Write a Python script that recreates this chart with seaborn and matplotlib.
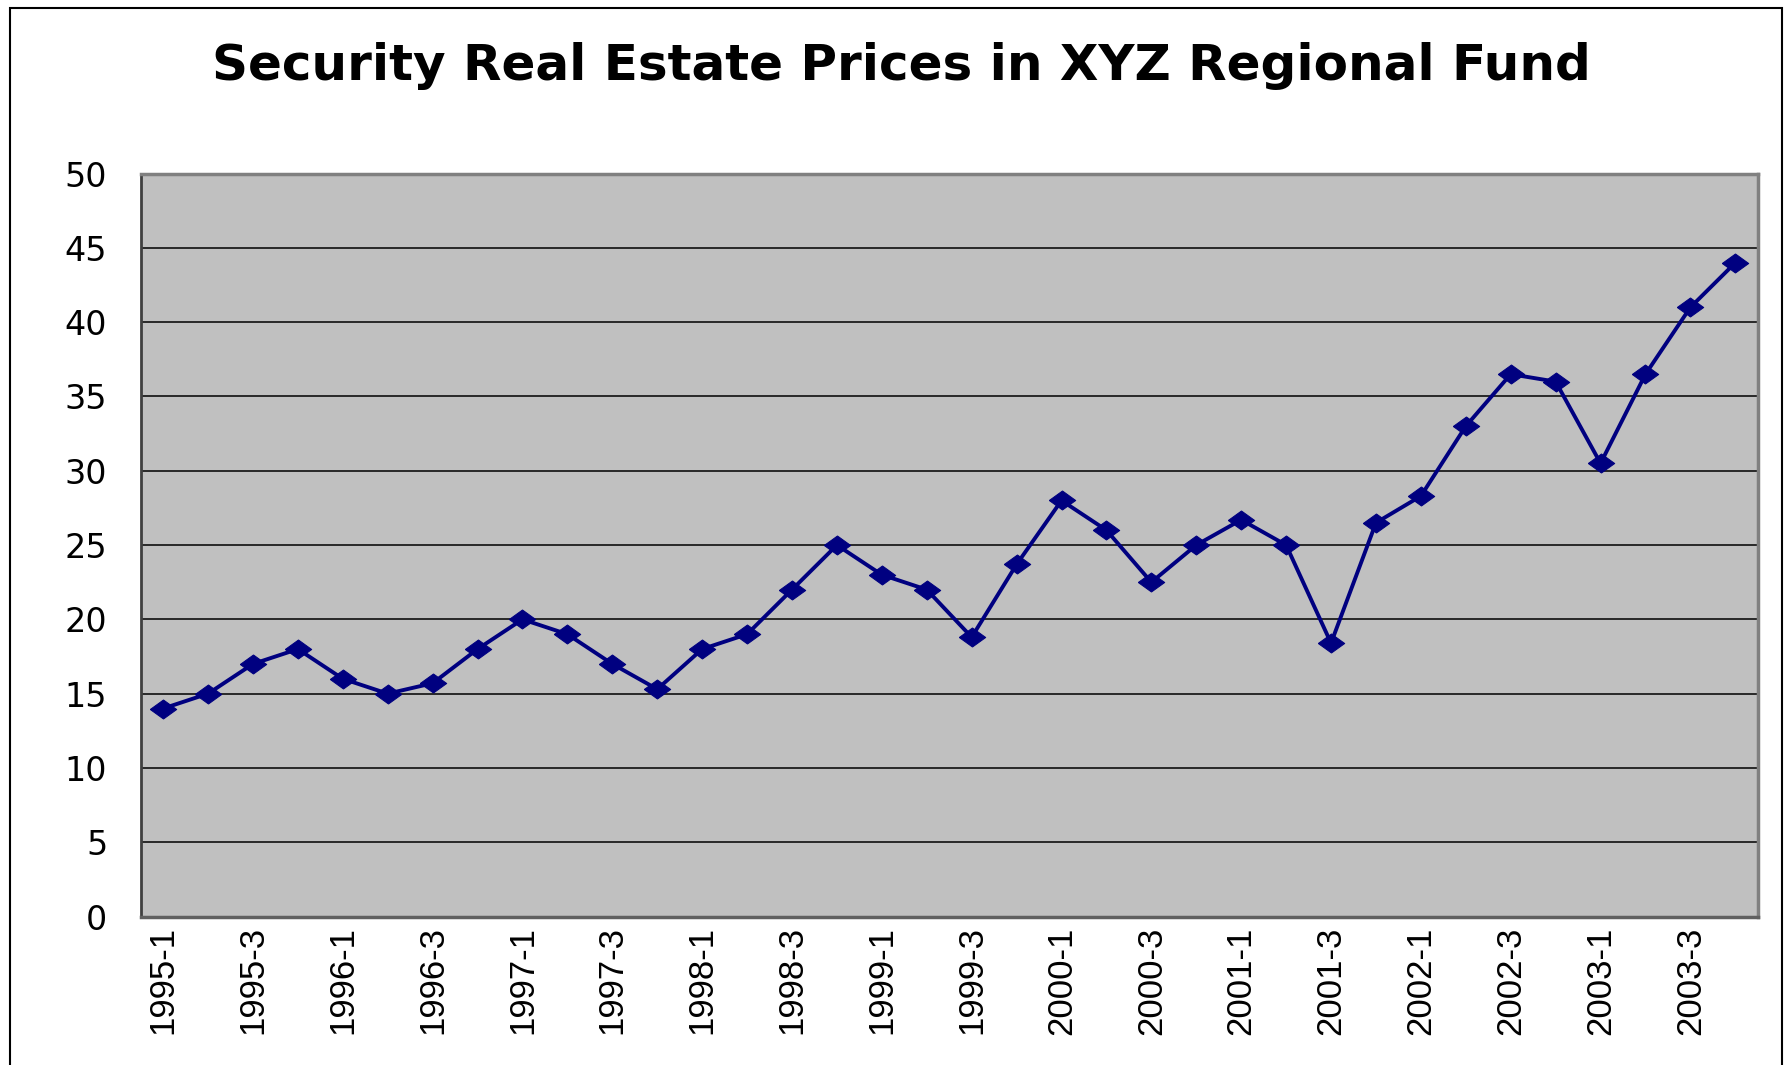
import numpy as np
import pandas as pd
import matplotlib
matplotlib.use("Agg")
import matplotlib.pyplot as plt
import seaborn as sns
from matplotlib.patches import Rectangle

years = list(range(1995, 2004))
quarters = [1, 2, 3, 4]
periodos = [f"{a}-{q}" for a in years for q in quarters]
precos = [14, 15, 17, 18, 16, 15, 15.7, 18, 20, 19, 17, 15.3,
          18, 19, 22, 25, 23, 22, 18.8, 23.7, 28, 26, 22.5, 25,
          26.7, 25, 18.4, 26.5, 28.3, 33, 36.5, 36, 30.5, 36.5, 41, 44]
y_ticks = [0, 5, 10, 15, 20, 25, 30, 35, 40, 45, 50]

df = pd.DataFrame({'Periodo': periodos, 'Preco': precos})
df['pos'] = np.arange(len(df))

sns.set_style("white")
plt.rcParams['font.family'] = ['Liberation Sans', 'DejaVu Sans']
plt.rcParams['text.color'] = 'black'
plt.rcParams['xtick.color'] = 'black'
plt.rcParams['ytick.color'] = 'black'

fig = plt.figure(figsize=(17.92, 10.65), dpi=100)
ax = fig.add_axes([0.0785, 0.1394, 0.9024, 0.6976])
ax.set_facecolor('#C0C0C0')

# diamond a bit wider than tall, like the Excel marker
diamond = [(-1, 0), (0, 0.72), (1, 0), (0, -0.72), (-1, 0)]
sns.lineplot(data=df, x='pos', y='Preco', ax=ax, color='#000080', linewidth=2.8,
             marker=diamond, markersize=19, markeredgecolor='#000080',
             markerfacecolor='#000080', zorder=3)

ax.set_xlim(-0.5, len(df) - 0.5)
ax.set_ylim(0, 50)
ax.set_yticks(y_ticks)
ax.set_yticklabels([str(v) for v in y_ticks], fontsize=24, family='DejaVu Sans')
ax.yaxis.grid(True, color='black', linewidth=1.1)
ax.set_axisbelow(True)

# ticks at category boundaries, labels on every other category
ax.set_xticks(np.arange(-0.5, len(df), 1.0))
ax.set_xticklabels([])
ax.set_xticks(df['pos'][::2], minor=True)
ax.set_xticklabels(df['Periodo'][::2], minor=True, rotation=90, fontsize=25, va='top')
ax.tick_params(axis='x', which='major', direction='out', length=9, width=1.2, color='black')
ax.tick_params(axis='x', which='minor', length=0, pad=7)
ax.tick_params(axis='y', direction='out', length=10, width=1.2, color='black', pad=14)

ax.set_xlabel('')
ax.set_ylabel('')
for s in ['top', 'right']:
    ax.spines[s].set_color('#808080')
    ax.spines[s].set_linewidth(2.5)
ax.spines['bottom'].set_color('#606060')
ax.spines['bottom'].set_linewidth(2.5)
ax.spines['left'].set_color('#404040')
ax.spines['left'].set_linewidth(2)

fig.text(0.503, 0.938, 'Security Real Estate Prices in XYZ Regional Fund',
         ha='center', va='center', fontsize=36, fontweight='bold',
         family='DejaVu Sans', color='black')

# outer chart frame
fig.patches.append(Rectangle((10 / 1792, -0.01), (1782 - 10) / 1792, 1 - 8 / 1065 + 0.01,
                             transform=fig.transFigure, fill=False,
                             edgecolor='black', linewidth=1.5))

fig.savefig('out.png', dpi=100)
